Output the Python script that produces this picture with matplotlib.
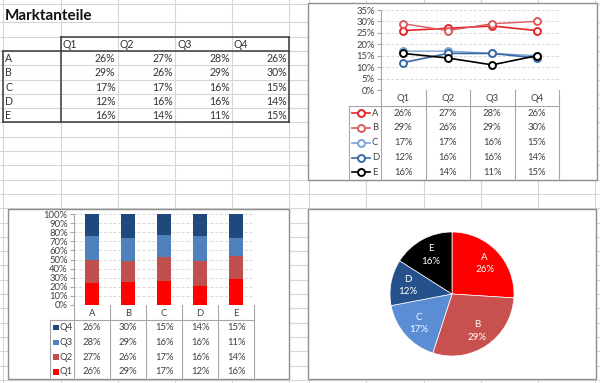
import matplotlib
matplotlib.use("Agg")
import matplotlib.pyplot as plt
from matplotlib.patches import Rectangle
import numpy as np

plt.rcParams['font.family'] = ['Lato', 'DejaVu Sans']

# ---------------- data ----------------
title = "Marktanteile"
quarters = ["Q1", "Q2", "Q3", "Q4"]
companies = ["A", "B", "C", "D", "E"]
share_A = [26, 27, 28, 26]
share_B = [29, 26, 29, 30]
share_C = [17, 17, 16, 15]
share_D = [12, 16, 16, 14]
share_E = [16, 14, 11, 15]
shares = [share_A, share_B, share_C, share_D, share_E]

line_colors = ['#E3242B', '#D9595D', '#79A2D6', '#3A68A6', '#000000']
quarter_colors = ['#FF0000', '#C0504D', '#4F81BD', '#1F497D']
pie_colors = ['#FF0000', '#C8514F', '#5A8DD3', '#27518D', '#000000']

W, H = 600, 383
fig = plt.figure(figsize=(W / 100, H / 100), dpi=100)
bg = fig.add_axes([0, 0, 1, 1])
bg.set_xlim(0, W)
bg.set_ylim(H, 0)
bg.axis('off')


def px_axes(x0, y0, x1, y1):
    return fig.add_axes([x0 / W, 1 - y1 / H, (x1 - x0) / W, (y1 - y0) / H])


# ---------------- spreadsheet grid ----------------
grid_c = '#D6D6D6'
col_x = [3, 60.5, 117.5, 175, 232, 289, 309, 366, 423.5, 481, 538, 595]
for x in col_x:
    bg.plot([x, x], [0, H], color=grid_c, lw=0.8, zorder=0)
row_y = [4] + [8 + 14.3 * k for k in range(1, 27)]
for y in row_y:
    bg.plot([0, W], [y, y], color=grid_c, lw=0.8, zorder=0)

# ---------------- main table ----------------
bg.text(5, 15.5, title, fontsize=11, fontweight='bold', va='center', ha='left', color='#111111')
tc = '#333333'
tfs = 7.6
row_top = 36.6
rh = 14.3
cx = [60.5, 117.5, 175, 232, 289]
for j, q in enumerate(quarters):
    bg.text(cx[j] + 2, row_top + rh / 2 + 0.5, q, fontsize=tfs, va='center', ha='left', color=tc)
for i, name in enumerate(companies):
    yc = row_top + rh * (i + 1) + rh / 2 + 0.5
    bg.text(5, yc, name, fontsize=tfs, va='center', ha='left', color=tc)
    for j in range(4):
        bg.text(cx[j + 1] - 2, yc, f"{shares[i][j]}%", fontsize=tfs, va='center', ha='right', color=tc)
bc = '#3A3A3A'
blw = 1.1
bottom = row_top + rh * 6
bg.plot([cx[0], cx[-1]], [row_top, row_top], color=bc, lw=blw)
bg.plot([3, cx[-1]], [row_top + rh, row_top + rh], color=bc, lw=blw)
bg.plot([3, cx[-1]], [bottom, bottom], color=bc, lw=blw)
bg.plot([3, 3], [row_top + rh, bottom], color=bc, lw=blw)
bg.plot([cx[0], cx[0]], [row_top, bottom], color=bc, lw=blw)
bg.plot([cx[-1], cx[-1]], [row_top, bottom], color=bc, lw=blw)

# ---------------- chart boxes ----------------
box_c = '#8E8E8E'
for (x0, y0, x1, y1) in [(308, 3, 597, 180), (8, 208.5, 289, 379), (308, 208.5, 596, 379)]:
    bg.add_patch(Rectangle((x0, y0), x1 - x0, y1 - y0, facecolor='white',
                           edgecolor=box_c, lw=1.0, zorder=1))

cfs = 6.8
tl_c = '#A6A6A6'
txt_c = '#404040'

# ---------------- line chart ----------------
lx0, lx1, ly0, ly1 = 381, 559, 10, 90
ax1 = px_axes(lx0, ly0, lx1, ly1)
xq = np.arange(len(quarters))
for i, name in enumerate(companies):
    ax1.plot(xq, np.array(shares[i]) / 100, color=line_colors[i], lw=1.0 if i in (1, 2) else 1.2,
             marker='o', ms=5, mfc='white', mew=1.4, zorder=3)
ax1.set_xlim(-0.5, len(quarters) - 0.5)
ax1.set_ylim(0, 0.35)
yt = np.arange(0, 0.351, 0.05)
ax1.set_yticks(yt)
ax1.set_yticklabels([f"{int(round(v * 100))}%" for v in yt], fontsize=cfs, color=txt_c)
ax1.set_xticks([])
for y in yt[1:]:
    ax1.axhline(y, color='#D9D9D9', lw=0.7, ls=(0, (3, 2)), zorder=0)
for s in ['top', 'right', 'bottom']:
    ax1.spines[s].set_visible(False)
ax1.spines['left'].set_color(tl_c)
ax1.tick_params(axis='y', length=3, color=tl_c, pad=1.5, direction='out')
ax1.patch.set_alpha(0)

# line chart data table
cw = (lx1 - lx0) / len(quarters)
hdr_b = 105.5
tb_bot = 179.5
rows_h = (tb_bot - hdr_b) / len(companies)
legx0 = 349
for j in range(len(quarters) + 1):
    x = lx0 + j * cw
    bg.plot([x, x], [ly1, tb_bot], color=tl_c, lw=0.8, zorder=2)
bg.plot([legx0, lx1], [hdr_b, hdr_b], color=tl_c, lw=0.8, zorder=2)
bg.plot([legx0, legx0], [hdr_b, tb_bot], color=tl_c, lw=0.8, zorder=2)
for j, q in enumerate(quarters):
    bg.text(lx0 + (j + 0.5) * cw, (ly1 + hdr_b) / 2 + 0.5, q, fontsize=cfs, ha='center', va='center', color=txt_c, zorder=3)
for i, name in enumerate(companies):
    yc = hdr_b + (i + 0.5) * rows_h + 0.3
    for j in range(len(quarters)):
        bg.text(lx0 + (j + 0.5) * cw, yc, f"{shares[i][j]}%", fontsize=cfs, ha='center', va='center', color=txt_c, zorder=3)
    bg.plot([352, 370], [yc, yc], color=line_colors[i], lw=1.2, zorder=3)
    bg.plot([361], [yc], marker='o', ms=5, mfc='white', mec=line_colors[i], mew=1.4, zorder=4)
    bg.text(372, yc, name, fontsize=cfs, ha='left', va='center', color=txt_c, zorder=3)

# ---------------- 100% stacked bar chart ----------------
bx0, bx1, by0, by1 = 74, 254, 214, 305
ax2 = px_axes(bx0, by0, bx1, by1)
mat = np.array(shares, dtype=float)  # companies x quarters
tot = mat.sum(axis=1)
xc = np.arange(len(companies))
base = np.zeros(len(companies))
for j, q in enumerate(quarters):
    frac = mat[:, j] / tot
    ax2.bar(xc, frac, bottom=base, width=0.4, color=quarter_colors[j], zorder=3)
    base += frac
ax2.set_xlim(-0.5, len(companies) - 0.5)
ax2.set_ylim(0, 1)
yt2 = np.arange(0, 1.001, 0.1)
ax2.set_yticks(yt2)
ax2.set_yticklabels([f"{int(round(v * 100))}%" for v in yt2], fontsize=cfs, color=txt_c)
ax2.set_xticks([])
for y in yt2[1:]:
    ax2.axhline(y, color='#D9D9D9', lw=0.7, ls=(0, (3, 2)), zorder=0)
for s in ['top', 'right', 'bottom']:
    ax2.spines[s].set_visible(False)
ax2.spines['left'].set_color(tl_c)
ax2.tick_params(axis='y', length=3, color=tl_c, pad=1.5, direction='out')
ax2.patch.set_alpha(0)

# bar chart data table
cw2 = (bx1 - bx0) / len(companies)
hdr_b2 = 320
tb_bot2 = 379
rows_h2 = (tb_bot2 - hdr_b2) / len(quarters)
legx2 = 50
for j in range(len(companies) + 1):
    x = bx0 + j * cw2
    bg.plot([x, x], [by1, tb_bot2], color=tl_c, lw=0.8, zorder=2)
bg.plot([legx2, bx1], [hdr_b2, hdr_b2], color=tl_c, lw=0.8, zorder=2)
bg.plot([legx2, legx2], [hdr_b2, tb_bot2], color=tl_c, lw=0.8, zorder=2)
for j, name in enumerate(companies):
    bg.text(bx0 + (j + 0.5) * cw2, (by1 + hdr_b2) / 2 + 0.5, name, fontsize=cfs, ha='center', va='center', color=txt_c, zorder=3)
for r, qi in enumerate(range(len(quarters) - 1, -1, -1)):
    yc = hdr_b2 + (r + 0.5) * rows_h2 + 0.3
    for j in range(len(companies)):
        bg.text(bx0 + (j + 0.5) * cw2, yc, f"{shares[j][qi]}%", fontsize=cfs, ha='center', va='center', color=txt_c, zorder=3)
    bg.add_patch(Rectangle((53, yc - 2.8), 5.6, 5.6, facecolor=quarter_colors[qi], edgecolor='none', zorder=3))
    bg.text(60, yc, quarters[qi], fontsize=cfs, ha='left', va='center', color=txt_c, zorder=3)

# ---------------- pie chart (Q1) ----------------
pcx, pcy, pr = 452, 294, 62
ax3 = px_axes(pcx - pr, pcy - pr, pcx + pr, pcy + pr)
q1 = [s[0] for s in shares]
wedges, _ = ax3.pie(q1, colors=pie_colors, startangle=90, counterclock=False, radius=1,
                    wedgeprops=dict(edgecolor='white', linewidth=0.5))
for w, name, v in zip(wedges, companies, q1):
    ang = np.deg2rad((w.theta1 + w.theta2) / 2)
    d = 0.72
    ax3.text(d * np.cos(ang), d * np.sin(ang), f"{name}\n{v}%", ha='center', va='center',
             color='white', fontsize=cfs + 0.2, linespacing=1.5)
ax3.set_xlim(-1, 1)
ax3.set_ylim(-1, 1)
ax3.set_aspect('equal')
ax3.axis('off')

fig.savefig('out.png', dpi=100)
